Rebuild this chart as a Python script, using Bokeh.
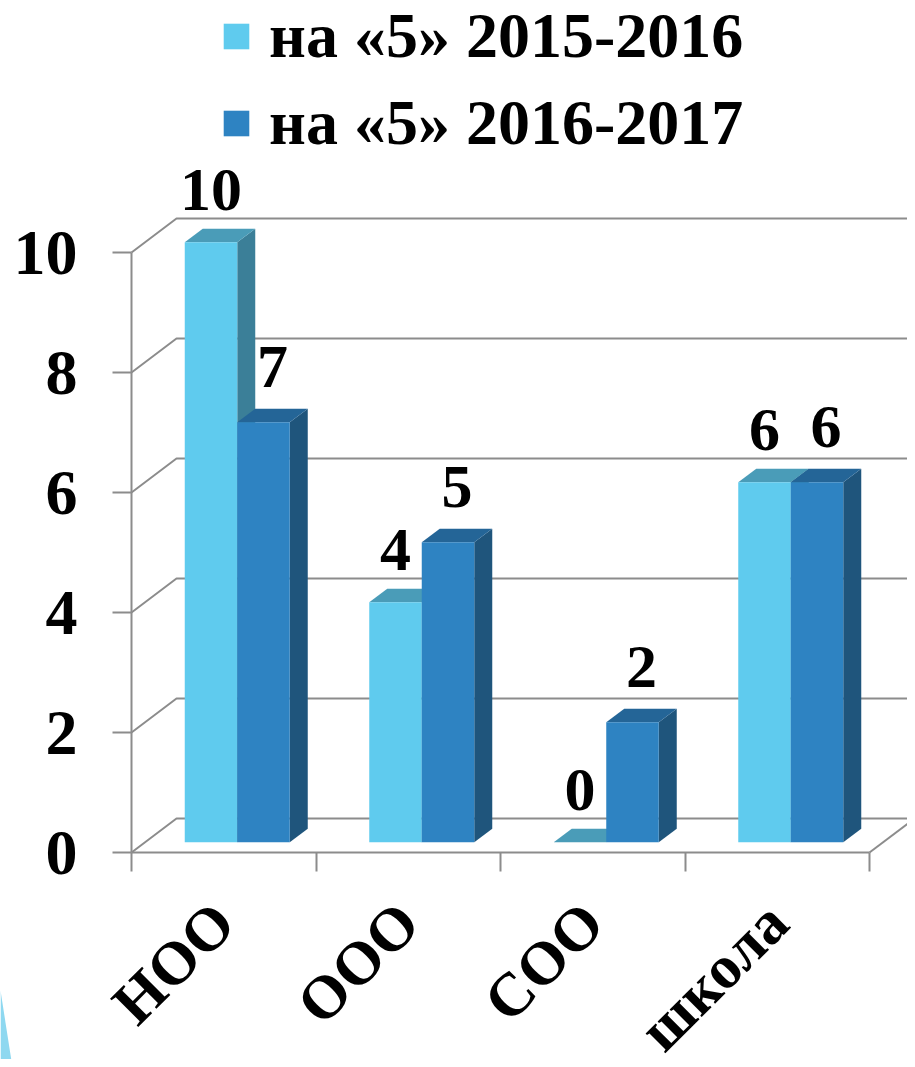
import math
from bokeh.plotting import figure
from bokeh.models import (Range1d, LinearAxis, FixedTicker, Legend, LegendItem)
from bokeh.core.properties import value
from bokeh.embed import file_html
from bokeh.resources import INLINE

# ---------------- data ----------------
categories = ["НОО", "ООО", "СОО", "школа"]
series_names = ["на «5» 2015-2016", "на «5» 2016-2017"]
values_2015 = [10, 4, 0, 6]
values_2016 = [7, 5, 2, 6]
y_ticks = [0, 2, 4, 6, 8, 10]

# ---------------- styling / geometry constants ----------------
FONT = "Liberation Serif"
GRID = "#8C8C8C"
FRONT = ["#5FCBEE", "#2E83C2"]
TOP = ["#4A9CB8", "#246597"]
SIDE = ["#3B7F98", "#1F557C"]
DECOR = "#8ED8F0"
LABEL_X_OFFSET = [0, 9]
LABEL_Y_OFFSET = [-63, -66]

W_PX, H_PX = 907, 1059
LEFT_PX = 131          # px where the front-left wall edge sits
ZERO_PX = 852          # px (from top) of value 0 on the front edge
PX_X = 184.5           # px per category
PX_Y = 60.0            # px per value unit

DX = 45 / PX_X         # depth offset of the back wall (x, data units)
DY = 34 / PX_Y         # depth offset of the back wall (y, data units)
D0, D1 = 0.3, 0.7      # bar depth placement (fraction of depth)
BW = 52.5 / PX_X       # bar front width

x_start = -0.5 - LEFT_PX / PX_X
y_start = -(H_PX - ZERO_PX) / PX_Y
p = figure(width=W_PX, height=H_PX, output_backend="svg", toolbar_location=None,
           x_range=Range1d(x_start, x_start + W_PX / PX_X),
           y_range=Range1d(y_start, ZERO_PX / PX_Y),
           x_axis_type=None, y_axis_type=None, min_border=0,
           outline_line_color=None, background_fill_color="white",
           border_fill_color="white")

n = len(categories)
left_edge, right_edge = -0.5, n - 0.5

# ---------------- slide decoration (bottom-left wedge) ----------------
p.patch([x_start, x_start + 12 / PX_X, x_start],
        [ZERO_PX / PX_Y - 990 / PX_Y, y_start - 8 / PX_Y, y_start - 8 / PX_Y],
        fill_color=DECOR, line_color=None)

# ---------------- walls / gridlines ----------------
gx, gy = [], []
for v in y_ticks:
    gx.append([left_edge, left_edge + DX, right_edge + DX])
    gy.append([v, v + DY, v + DY])
gx.append([right_edge + DX, right_edge])
gy.append([DY, 0])
p.multi_line(gx, gy, line_color=GRID, line_width=2)

# ---------------- bars ----------------
def faces(vals, j):
    fx, fy, tx, ty, sx, sy = [], [], [], [], [], []
    ddx, ddy = (D1 - D0) * DX, (D1 - D0) * DY
    for i, v in enumerate(vals):
        x0 = i + D0 * DX + (j - 1) * BW
        x1 = x0 + BW
        b = D0 * DY
        t = v + D0 * DY
        fx.append([x0, x1, x1, x0]); fy.append([b, b, t, t])
        tx.append([x0, x1, x1 + ddx, x0 + ddx]); ty.append([t, t, t + ddy, t + ddy])
        sx.append([x1, x1 + ddx, x1 + ddx, x1]); sy.append([b, b + ddy, t + ddy, t])
    return fx, fy, tx, ty, sx, sy

front_renderers = []
for j, vals in enumerate([values_2015, values_2016]):
    fx, fy, tx, ty, sx, sy = faces(vals, j)
    p.patches(sx, sy, fill_color=SIDE[j], line_color=None)
    p.patches(tx, ty, fill_color=TOP[j], line_color=None)
    fr = p.patches(fx, fy, fill_color=FRONT[j], line_color=None)
    front_renderers.append(fr)

# ---------------- value labels ----------------
for j, vals in enumerate([values_2015, values_2016]):
    lx = [i + D0 * DX + (j - 0.5) * BW for i in range(len(vals))]
    p.text(x=lx, y=list(vals), text=[str(v) for v in vals],
           text_font=value(FONT), text_font_style="bold",
           text_font_size="62px", text_align="center", text_baseline="alphabetic",
           x_offset=LABEL_X_OFFSET[j], y_offset=LABEL_Y_OFFSET[j],
           text_color="black")

# ---------------- axes ----------------
yaxis = LinearAxis(ticker=FixedTicker(ticks=y_ticks), bounds=(0, max(y_ticks)),
                   fixed_location=left_edge,
                   axis_line_color=GRID, axis_line_width=2,
                   major_tick_line_color=GRID, major_tick_line_width=2,
                   major_tick_out=19, major_tick_in=0,
                   minor_tick_line_color=None,
                   major_label_standoff=35,
                   major_label_text_font=FONT, major_label_text_font_style="bold",
                   major_label_text_font_size="64px", major_label_text_color="black")
p.add_layout(yaxis, "left")

xaxis = LinearAxis(ticker=FixedTicker(ticks=list(range(n)),
                                      minor_ticks=[k - 0.5 for k in range(n + 1)]),
                   bounds=(left_edge, right_edge), fixed_location=0,
                   major_label_overrides={i: c for i, c in enumerate(categories)},
                   major_label_orientation=math.pi / 4,
                   axis_line_color=GRID, axis_line_width=2,
                   major_tick_line_color=None, major_tick_out=0, major_tick_in=0,
                   minor_tick_line_color=GRID, minor_tick_line_width=2,
                   minor_tick_out=19, minor_tick_in=0,
                   major_label_standoff=41,
                   major_label_text_font=FONT, major_label_text_font_style="bold",
                   major_label_text_font_size="61px", major_label_text_color="black")
p.add_layout(xaxis, "below")

# ---------------- legend ----------------
legend = Legend(items=[LegendItem(label=series_names[k], renderers=[front_renderers[k]])
                       for k in range(2)],
                location=(220, 899), orientation="vertical",
                glyph_width=32, glyph_height=32, label_standoff=17, spacing=13,
                padding=0, margin=0, border_line_color=None, background_fill_alpha=0,
                label_text_font=FONT, label_text_font_style="bold",
                label_text_font_size="64px", label_text_color="black")
p.add_layout(legend)

open("out.html", "w").write(file_html(p, INLINE))
